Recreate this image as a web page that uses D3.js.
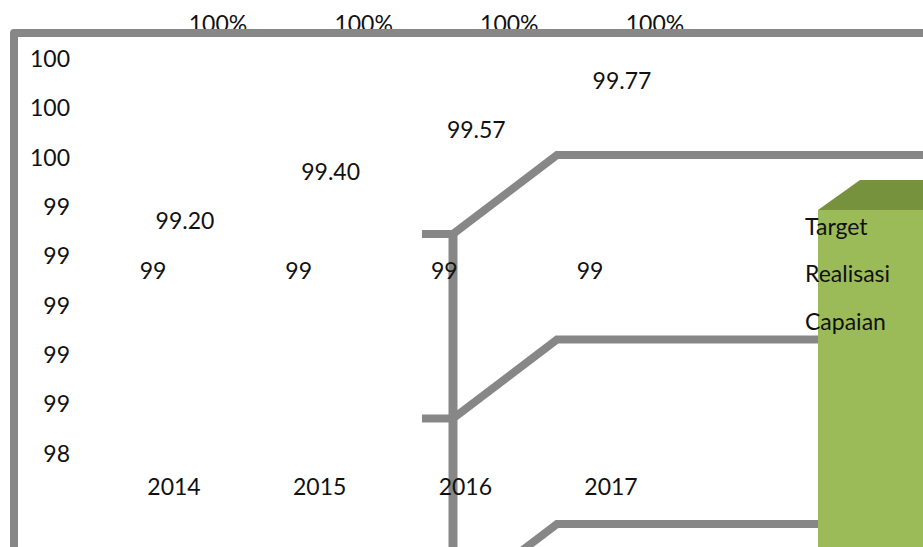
<!DOCTYPE html>
<html><head><meta charset="utf-8">
<script src="https://cdnjs.cloudflare.com/ajax/libs/d3/7.8.5/d3.min.js"></script>
<style>html,body{margin:0;padding:0;background:#fff;overflow:hidden}svg{display:block}text{font-family:Lato,"Open Sans",sans-serif;font-size:23px;fill:#111}</style>
</head><body><svg width="923" height="547"></svg>
<script>
const years = ["2014","2015","2016","2017"];
const target = [99,99,99,99];
const realisasi = [99.20,99.40,99.57,99.77];
const capaian = [100,100,100,100];
const yTicks = [100,99.8,99.6,99.4,99.2,99,98.8,98.6,98.4];
const yTickLabels = ["100","100","100","99","99","99","99","99","98"];
const legendNames = ["Target","Realisasi","Capaian"];
const gridLevels = [2,1,0];

const svg = d3.select("svg");
const y = d3.scaleLinear().domain([98.4,100]).range([456,61]);
const x = d3.scalePoint().domain(years).range([174,611]);
const grid = d3.scaleLinear().domain([0,2]).range([603,234]);
const labelLift = 35;
const gray = "#878787";

const labelsLayer = (vals, dx, fmt) => svg.append("g").selectAll("text").data(vals).join("text")
  .attr("x",(d,i)=>x(years[i])+dx).attr("y",d=>y(d)-labelLift)
  .attr("text-anchor","middle").attr("dominant-baseline","middle").text(fmt);
labelsLayer(capaian,44,()=>"100%");

// chart-area frame
svg.append("path").attr("fill","none").attr("stroke",gray).attr("stroke-width",8).attr("stroke-linejoin","round")
  .attr("d",d3.line()([[14,547],[14,33],[923,33]]));

// 3D wall gridlines
const wall = svg.append("g").attr("fill","none").attr("stroke",gray).attr("stroke-width",8);
wall.selectAll("path.g").data(gridLevels).join("path").attr("class","g")
  .attr("d",d=>d3.line()([[422,grid(d)],[453,grid(d)],[557,grid(d)-79],[923,grid(d)-79]]));
wall.append("line").attr("x1",453).attr("x2",453).attr("y1",grid(2)-3).attr("y2",547).attr("stroke-width",9);

// 3D bar
const barX = 818, barTop = 210;
svg.append("rect").attr("x",barX).attr("y",barTop).attr("width",923-barX).attr("height",547-barTop).attr("fill","#9bbb59");
svg.append("path").attr("fill","#76923c").attr("d",d3.line()([[barX,barTop],[860,180],[923,180],[923,barTop]]));

// axis labels
svg.append("g").selectAll("text").data(yTicks).join("text")
  .attr("x",70).attr("y",d=>y(d)).attr("text-anchor","end").attr("dominant-baseline","middle")
  .text((d,i)=>yTickLabels[i]);
svg.append("g").selectAll("text").data(years).join("text")
  .attr("x",d=>x(d)).attr("y",489).attr("text-anchor","middle").attr("dominant-baseline","middle").text(d=>d);

// data labels
labelsLayer(realisasi,11,d=>d.toFixed(2));
labelsLayer(target,-21,d=>d);

// legend
svg.append("g").selectAll("text").data(legendNames).join("text")
  .attr("x",805).attr("y",(d,i)=>229+i*47.5).attr("dominant-baseline","middle").text(d=>d);
</script></body></html>
